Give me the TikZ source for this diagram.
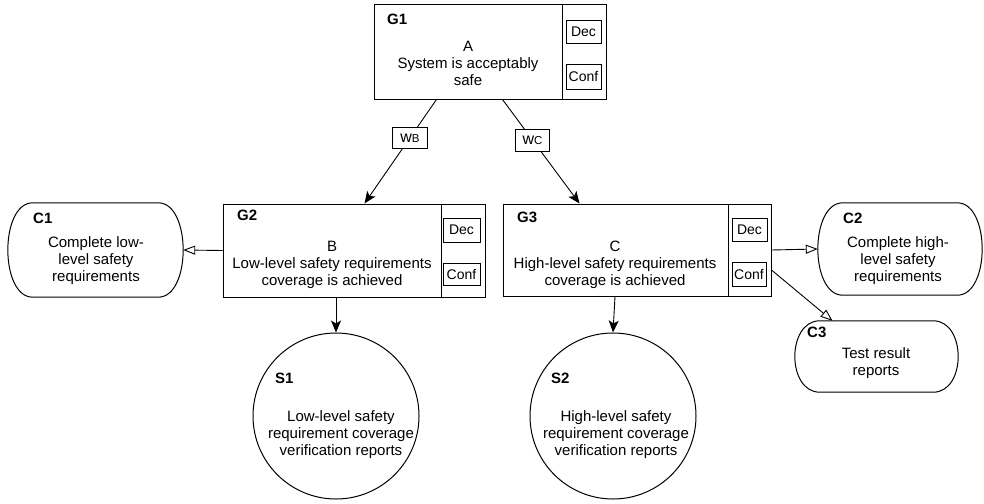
\documentclass[tikz,border=0pt]{standalone}
\usepackage{fontspec}
\setmainfont{Liberation Sans}
\usetikzlibrary{arrows.meta,calc}
\tikzset{
  box/.style={draw, rectangle, line width=1pt, inner sep=0pt},
  small/.style={draw, rectangle, line width=0.9pt, inner sep=0pt, font=\fontsize{14}{16}\selectfont},
  txt/.style={align=center, inner sep=0pt, font=\fontsize{15}{17}\selectfont},
  lbl/.style={anchor=base west, inner sep=0pt, font=\bfseries\fontsize{15}{17}\selectfont},
  ctx/.style={rectangle, inner sep=0pt},
  sol/.style={draw, circle, line width=1pt, inner sep=0pt, minimum size=166pt},
  wbox/.style={draw, rectangle, fill=white, line width=0.9pt, inner sep=0pt, minimum width=35pt, minimum height=21pt},
  farr/.style={line width=0.9pt, -{Stealth[length=12pt,width=10pt,inset=3pt]}},
  oarr/.style={line width=0.9pt, -{Triangle[open,length=12pt,width=9pt,fill=white]}},
  shapeline/.style={draw, line width=1pt}
}
\newcommand{\ctxshape}[1]{\draw[shapeline] ([xshift=25pt]#1.north west) -- ([xshift=-25pt]#1.north east) .. controls ([xshift=8.3pt]#1.north east) and ([xshift=8.3pt]#1.south east) .. ([xshift=-25pt]#1.south east) -- ([xshift=25pt]#1.south west) .. controls ([xshift=-8.3pt]#1.south west) and ([xshift=-8.3pt]#1.north west) .. cycle;}
\begin{document}
\begin{tikzpicture}[x=1pt,y=-1pt]
\useasboundingbox (0,0) rectangle (984,503);
% goals
\node[box, minimum width=232pt, minimum height=94pt] (g1) at (490,52) {};
\draw[line width=1pt] (562,5) -- (562,99);
\node[txt] (g1t) at (468,63) {A\\System is acceptably\\safe};
\node[lbl] (g1l) at (387,25) {G1};
\node[small, minimum width=35pt, minimum height=23pt] (g1d) at (583.5,31.5) {Dec};
\node[small, minimum width=35pt, minimum height=25pt] (g1c) at (583.5,76.5) {Conf};

\node[box, minimum width=262pt, minimum height=93pt] (g2) at (354,250.5) {};
\draw[line width=1pt] (441,204) -- (441,297);
\node[txt] (g2t) at (332,265) {B\\Low-level safety requirements\\coverage is achieved};
\node[lbl] (g2l) at (237,220) {G2};
\node[small, minimum width=37pt, minimum height=24pt] (g2d) at (461.5,230) {Dec};
\node[small, minimum width=37pt, minimum height=22pt] (g2c) at (461.5,274) {Conf};

\node[box, minimum width=268pt, minimum height=92pt] (g3) at (637,250) {};
\draw[line width=1pt] (728,204) -- (728,296);
\node[txt] (g3t) at (615,265) {C\\High-level safety requirements\\coverage is achieved};
\node[lbl] (g3l) at (517,222) {G3};
\node[small, minimum width=35pt, minimum height=23pt] (g3d) at (749.5,229.5) {Dec};
\node[small, minimum width=34pt, minimum height=24pt] (g3c) at (749,274) {Conf};

% contexts
\node[ctx, minimum width=175pt, minimum height=94pt] (c1) at (95.5,250) {};
\ctxshape{c1}
\node[txt] (c1t) at (96,261) {Complete low-\\level safety\\requirements};
\node[lbl] (c1l) at (33,223) {C1};

\node[ctx, minimum width=164pt, minimum height=92pt] (c2) at (900,249) {};
\ctxshape{c2}
\node[txt] (c2t) at (898,261) {Complete high-\\level safety\\requirements};
\node[lbl] (c2l) at (843,223) {C2};

\node[ctx, minimum width=163pt, minimum height=71pt] (c3) at (876.5,356.5) {};
\ctxshape{c3}
\node[txt] (c3t) at (876,363) {Test result\\reports};
\node[lbl] (c3l) at (807,337) {C3};

% solutions
\node[sol] (s1) at (336,416) {};
\node[txt] (s1t) at (341,435) {Low-level safety\\requirement coverage\\verification reports};
\node[lbl] (s1l) at (275,383) {S1};

\node[sol] (s2) at (613,416) {};
\node[txt] (s2t) at (616,435) {High-level safety\\requirement coverage\\verification reports};
\node[lbl] (s2l) at (551,383) {S2};

% connectors
\draw[farr] ([xshift=63pt]g1.south west) -- node[wbox, pos=0.37] (wb) {{\fontsize{16}{16}\selectfont w}{\fontsize{11.5}{12}\selectfont B}} ([xshift=142pt]g2.north west);
\draw[farr] ([xshift=129pt]g1.south west) -- node[wbox, pos=0.39, minimum width=34pt, minimum height=22pt] (wc) {{\fontsize{16}{16}\selectfont w}{\fontsize{11.5}{12}\selectfont C}} ([xshift=77pt]g3.north west);
\draw[farr] ([xshift=-18pt]g2.south) -- (s1.north);
\draw[farr] ([xshift=-22pt]g3.south) -- (s2.north);
\draw[oarr] (g2.west) -- (c1.east);
\draw[oarr] (g3.east) -- (c2.west);
\draw[oarr] ([yshift=-20pt]g3.east) -- ([xshift=-44pt]c3.north);
\end{tikzpicture}
\end{document}
